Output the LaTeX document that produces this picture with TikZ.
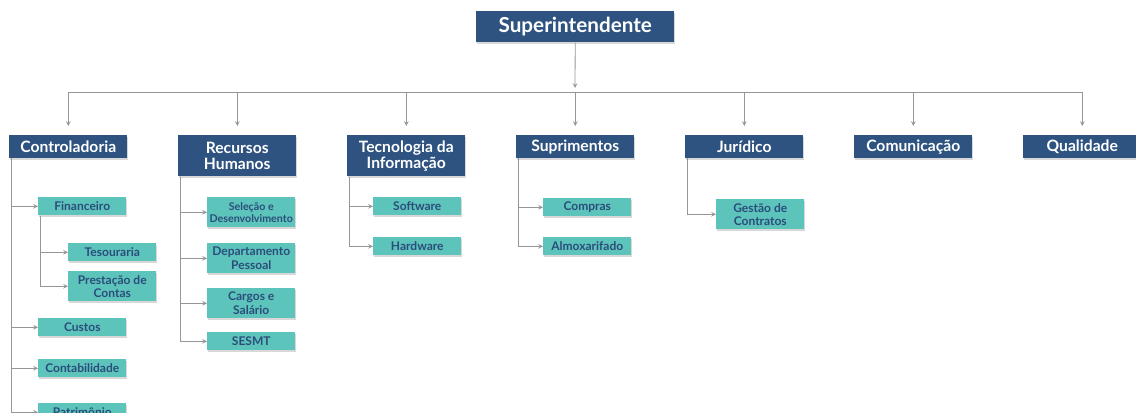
\documentclass[tikz,border=0pt]{standalone}
\usepackage{fontspec}
\setmainfont{Lato}
\usetikzlibrary{arrows,shapes,positioning,shadows}
\definecolor{ocnavy}{RGB}{46,83,128}
\definecolor{octeal}{RGB}{92,196,186}
\definecolor{octext}{RGB}{44,76,124}
\definecolor{ocline}{RGB}{150,150,150}
\tikzstyle{arrow} = [line width=0.6pt,->,>=stealth,color=ocline]
\tikzstyle{boxshadow} = [drop shadow={shadow xshift=0.6pt, shadow yshift=-1.6pt, fill=black!30}]
\tikzstyle{head} = [boxshadow, fill=ocnavy, text=white, font=\bfseries\fontsize{11.75}{11.75}\selectfont, minimum width=88.5pt, minimum height=17pt, align=center, inner sep=1pt, anchor=north west]
\tikzstyle{tall} = [minimum height=30.75pt]
\tikzstyle{unit} = [boxshadow, fill=octeal, text=octext, font=\bfseries\fontsize{9}{10}\selectfont, minimum width=66pt, minimum height=13.5pt, align=center, inner sep=1pt, anchor=north west]
\tikzstyle{twoline} = [minimum height=22.5pt]

\begin{document}
\begin{tikzpicture}[x=0.75pt, y=-0.75pt]
\useasboundingbox (0,0) rectangle (1136,412);

% Top
\node[head, minimum width=148.5pt, minimum height=23.25pt, font=\bfseries\fontsize{15.5}{17}\selectfont] (super) at (476,11) {Superintendente};
\coordinate (bus) at (575,92);

% Departments
\node[head] (ctrl) at (9,135) {Controladoria};
\node[head, tall] (rh) at (178,135) {Recursos\\Humanos};
\node[head, tall] (ti) at (347,135) {Tecnologia da\\Informação};
\node[head] (supri) at (516,135) {Suprimentos};
\node[head] (jur) at (685,135) {Jurídico};
\node[head] (com) at (854,135) {Comunicação};
\node[head] (qual) at (1023,135) {Qualidade};

\draw[arrow, shorten >=3pt] (super) -- (bus);
\foreach \h in {ctrl,rh,ti,supri,jur,com,qual}
  \draw[arrow, shorten >=6.75pt] (bus) -| (\h.north);

% Controladoria
\node[unit] (fin) at (38,197) {Financeiro};
\node[unit] (tes) at (68,243) {Tesouraria};
\node[unit, twoline] (prest) at (68,271) {Prestação de\\Contas};
\node[unit] (cust) at (38,318) {Custos};
\node[unit] (cont) at (38,359) {Contabilidade};
\node[unit] (patr) at (38,403) {Patrimônio};
\foreach \u in {fin,cust,cont,patr}
  \draw[arrow] ([xshift=1.5pt]ctrl.south west) |- (\u.west);
\foreach \u in {tes,prest}
  \draw[arrow] ([xshift=1.5pt]fin.south west) |- (\u.west);

% Recursos Humanos
\node[unit, twoline, font=\bfseries\fontsize{8}{9}\selectfont] (sel) at (207,197) {Seleção e\\Desenvolvimento};
\node[unit, twoline] (dep) at (207,243) {Departamento\\Pessoal};
\node[unit, twoline] (carg) at (207,288) {Cargos e\\Salário};
\node[unit] (sesmt) at (207,332) {SESMT};
\foreach \u in {sel,dep,carg,sesmt}
  \draw[arrow] ([xshift=1.5pt]rh.south west) |- (\u.west);

% Tecnologia da Informacao
\node[unit] (soft) at (373,197) {Software};
\node[unit] (hard) at (373,237) {Hardware};
\foreach \u in {soft,hard}
  \draw[arrow] ([xshift=1.5pt]ti.south west) |- (\u.west);

% Suprimentos
\node[unit] (comp) at (543,198) {Compras};
\node[unit] (almox) at (543,237) {Almoxarifado};
\foreach \u in {comp,almox}
  \draw[arrow] ([xshift=1.5pt]supri.south west) |- (\u.west);

% Juridico
\node[unit, twoline] (gest) at (716,199) {Gestão de\\Contratos};
\draw[arrow] ([xshift=1.5pt]jur.south west) |- (gest.west);
\end{tikzpicture}
\end{document}
